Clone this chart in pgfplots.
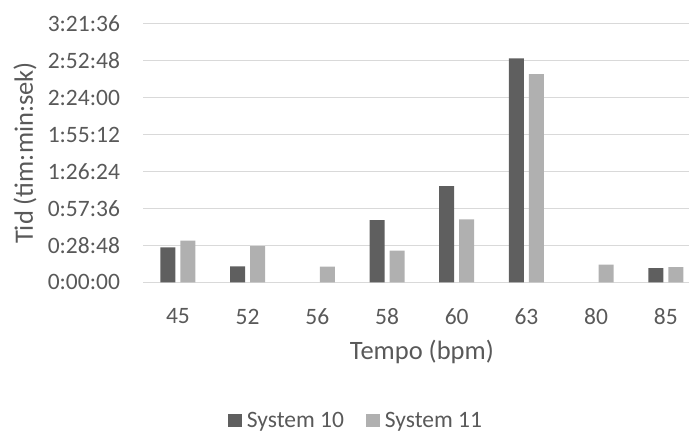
\documentclass[border=0pt]{standalone}
\usepackage{pgfplots}
\pgfplotsset{compat=1.18}
\usepackage{fontspec}
\setmainfont{Carlito}
\definecolor{sysA}{HTML}{5F5F5F}
\definecolor{sysB}{HTML}{B0B0B0}
\definecolor{txt}{HTML}{595959}
\definecolor{grd}{HTML}{D9D9D9}
\begin{document}
\begin{tikzpicture}
\path[use as bounding box] (-143.1pt,-153.7pt) rectangle (545.9pt,282.3pt);
\begin{axis}[
  at={(0pt,0pt)}, anchor=south west,
  scale only axis,
  width=557.6pt, height=258.6pt,
  xmin=-0.5, xmax=7.5,
  ymin=0, ymax=12096,
  scaled y ticks=false,
  ybar=5pt, bar width=15pt,
  axis line style={draw=none},
  tick style={draw=none},
  xtick={0,1,2,3,4,5,6,7},
  xticklabels={45,52,56,58,60,63,80,85},
  ytick={0,1728,3456,5184,6912,8640,10368,12096},
  yticklabels={0:00:00,0:28:48,0:57:36,1:26:24,1:55:12,2:24:00,2:52:48,3:21:36},
  /pgf/number format/assume math mode=true,
  ymajorgrids, grid style={grd, line width=1.3pt},
  tick label style={font=\fontsize{23.5}{28}\selectfont, text=txt},
  yticklabel style={inner sep=0pt, xshift=-23pt},
  xticklabel style={inner sep=0pt, yshift=-22pt},
  xlabel={Tempo (bpm)},
  ylabel={Tid (tim:min:sek)},
  label style={font=\fontsize{26.5}{31}\selectfont, text=txt},
  xlabel style={at={(axis description cs:0.5,-0.2695)}, anchor=center},
  ylabel style={at={(axis description cs:-0.2118,0.5)}, anchor=center, rotate=0},
  legend style={at={(axis description cs:0.3818,-0.536)}, anchor=center, draw=none, fill=none,
    font=\fontsize{23.5}{28}\selectfont, text=txt, legend columns=2,
    /tikz/every odd column/.append style={column sep=3pt},
    /tikz/every even column/.append style={column sep=20pt}},
  legend image code/.code={\fill[#1] (0pt,-6pt) rectangle (14pt,7pt);},
]
\addplot[fill=sysA, draw=none] coordinates {(0,1634) (1,747) (3,2911) (4,4498) (5,10476) (7,668)};
\addplot[fill=sysB, draw=none] coordinates {(0,1946) (1,1697) (2,732) (3,1479) (4,2942) (5,9742) (6,822) (7,715)};
\legend{System 10, System 11}
\end{axis}
\end{tikzpicture}
\end{document}
